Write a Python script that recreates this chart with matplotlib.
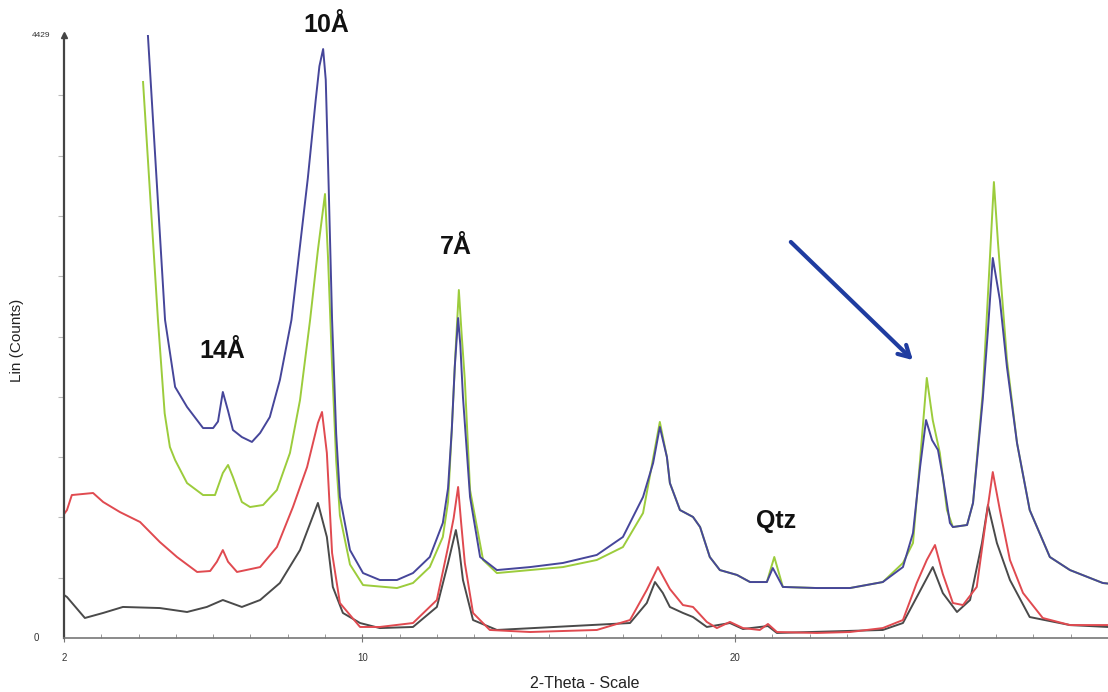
import matplotlib
matplotlib.use("Agg")
import matplotlib.pyplot as plt
import numpy as np

plt.rcParams['font.family'] = ['Liberation Sans', 'DejaVu Sans']

# ---- data (2-Theta, Lin counts) ----
blue_x = [4.25, 4.71, 4.98, 5.30, 5.73, 6.00, 6.13, 6.26, 6.40, 6.53, 6.77, 7.04, 7.26, 7.52, 7.79,
          8.10, 8.54, 8.75, 8.85, 8.95, 9.02, 9.10, 9.19, 9.30, 9.40, 9.67, 10.02, 10.47, 10.93, 11.36,
          11.81, 12.16, 12.30, 12.40, 12.48, 12.57, 12.63, 12.70, 12.89, 13.16, 13.61, 14.50, 15.38,
          16.29, 16.99, 17.53, 17.80, 17.98, 18.17, 18.25, 18.52, 18.87, 19.06, 19.32, 19.59, 20.05,
          20.40, 20.85, 21.01, 21.28, 22.19, 23.08, 23.96, 24.50, 24.77, 24.96, 25.12, 25.28, 25.44,
          25.57, 25.76, 25.84, 26.22, 26.38, 26.64, 26.78, 26.91, 27.10, 27.29, 27.56, 27.90, 28.44,
          28.98, 29.86, 30.00]
blue_y = [4429, 2336, 1844, 1697, 1542, 1542, 1590, 1807, 1668, 1528, 1476, 1440, 1506, 1623, 1895,
          2336, 3379, 3950, 4200, 4326, 4100, 3300, 2336, 1500, 1036, 646, 477, 426, 426, 477,
          595, 845, 1100, 1528, 1990, 2350, 2150, 1770, 1036, 595, 499, 521, 551,
          610, 742, 1036, 1285, 1550, 1329, 1138, 940, 889, 815, 595, 499, 463,
          411, 411, 514, 375, 367, 367, 411, 521, 771, 1256, 1601, 1454, 1381,
          1183, 845, 815, 830, 992, 1750, 2262, 2791, 2483, 1990, 1432, 940, 595,
          499, 404, 400]

green_x = [4.12, 4.52, 4.70, 4.84, 4.98, 5.30, 5.73, 6.05, 6.26, 6.40, 6.53, 6.77, 6.99, 7.34, 7.71,
           8.06, 8.33, 8.60, 8.81, 9.00, 9.08, 9.19, 9.30, 9.40, 9.67, 10.02, 10.93, 11.36, 11.81,
           12.16, 12.30, 12.40, 12.50, 12.59, 12.66, 12.75, 12.89, 13.24, 13.61, 15.38, 16.29, 16.99,
           17.53, 17.98, 18.17, 18.25, 18.52, 18.87, 19.06, 19.32, 19.59, 20.05, 20.40, 20.85, 21.05,
           21.28, 22.19, 23.08, 23.96, 24.50, 24.77, 24.96, 25.14, 25.30, 25.49, 25.68, 25.84, 26.22,
           26.38, 26.64, 26.83, 26.94, 27.05, 27.29, 27.56, 27.90, 28.44, 28.98, 29.86, 30.00]
green_y = [4084, 2336, 1650, 1403, 1307, 1138, 1050, 1050, 1212, 1271, 1183, 999, 962, 977, 1087,
           1359, 1748, 2336, 2850, 3261, 2800, 2000, 1300, 900, 540, 389, 367, 404, 521,
           742, 1000, 1528, 2100, 2556, 2250, 1895, 1087, 573, 477, 521, 573, 668,
           918, 1587, 1329, 1138, 940, 889, 815, 595, 499, 463, 411, 411, 595,
           375, 367, 367, 411, 551, 698, 1307, 1910, 1600, 1359, 940, 815, 830,
           992, 1800, 2776, 3349, 2901, 2042, 1432, 940, 595, 499, 404, 400]

red_x = [2.00, 2.08, 2.21, 2.78, 3.05, 3.50, 4.04, 4.57, 5.03, 5.57, 5.92, 6.10, 6.26, 6.40, 6.64,
         7.26, 7.71, 8.14, 8.52, 8.81, 8.92, 9.05, 9.19, 9.40, 9.94, 10.47, 11.36, 12.00, 12.30,
         12.45, 12.57, 12.65, 12.75, 12.97, 13.42, 14.50, 16.29, 17.18, 17.63, 17.93, 18.25, 18.60,
         18.87, 19.24, 19.51, 19.86, 20.21, 20.66, 20.88, 21.12, 22.19, 23.08, 23.96, 24.50, 24.87,
         25.14, 25.36, 25.57, 25.84, 26.11, 26.48, 26.70, 26.91, 27.10, 27.37, 27.72, 28.25, 28.98,
         30.00]
red_y = [910, 940, 1050, 1065, 999, 925, 852, 705, 595, 485, 492, 560, 646, 560, 485,
         521, 668, 962, 1256, 1580, 1660, 1359, 624, 257, 81, 81, 110, 279, 668,
         880, 1109, 850, 551, 184, 59, 44, 59, 132, 353, 521, 360, 242,
         228, 118, 73, 118, 73, 59, 103, 44, 37, 44, 73, 132, 404,
         573, 683, 470, 257, 242, 375, 815, 1219, 940, 573, 331, 147, 95,
         95]

black_x = [2.00, 2.08, 2.56, 3.05, 3.58, 4.57, 5.30, 5.83, 6.26, 6.77, 7.26, 7.79, 8.33, 8.81, 9.05,
           9.21, 9.48, 9.94, 10.47, 11.36, 12.00, 12.30, 12.42, 12.51, 12.60, 12.70, 12.97, 13.61,
           17.18, 17.63, 17.85, 18.06, 18.25, 18.60, 18.87, 19.24, 19.86, 20.21, 20.88, 21.12, 23.96,
           24.50, 24.87, 25.30, 25.57, 25.95, 26.30, 26.62, 26.78, 27.02, 27.37, 27.90, 28.98, 30.00]
black_y = [316, 301, 147, 184, 228, 220, 191, 228, 279, 228, 279, 404, 646, 992, 742,
           375, 184, 110, 73, 81, 228, 551, 690, 793, 650, 426, 132, 59,
           110, 257, 411, 331, 228, 184, 154, 81, 110, 66, 88, 37, 59,
           110, 300, 521, 330, 191, 279, 698, 977, 698, 426, 154, 95, 81]

x_tick_labels = ["2", "10", "20"]
x_tick_vals = [2, 10, 20]
y_max = 4429

fig = plt.figure(figsize=(11.08, 6.92), dpi=100)
ax = fig.add_axes([64/1108, 54/692, 1044/1108, 603/692])
ax.set_xlim(2, 30)
ax.set_ylim(0, y_max)

ax.plot(black_x, black_y, color='#4a4a4a', lw=1.4)
ax.plot(red_x, red_y, color='#e04a50', lw=1.4)
ax.plot(green_x, green_y, color='#9ccc3c', lw=1.4)
ax.plot(blue_x, blue_y, color='#46469a', lw=1.4)

for s in ['top', 'right']:
    ax.spines[s].set_visible(False)
ax.spines['left'].set_color('#444444')
ax.spines['left'].set_linewidth(1.6)
ax.spines['bottom'].set_color('#777777')
ax.spines['bottom'].set_linewidth(1.2)

ax.set_xticks(x_tick_vals)
ax.set_xticklabels(x_tick_labels, fontsize=7, color='#333333')
ax.set_xticks(np.arange(3, 30, 1), minor=True)
ax.tick_params(axis='x', which='major', direction='inout', length=6, color='#777777', pad=8)
ax.tick_params(axis='x', which='minor', direction='in', length=3, color='#888888')

ax.set_yticks([y_max * i / 10 for i in range(1, 10)])
ax.set_yticklabels([])
ax.tick_params(axis='y', direction='out', length=4, color='#bbbbbb')
ax.annotate("4429", xy=(0, y_max), xycoords=('axes fraction', 'data'),
            xytext=(-10, 0), textcoords='offset points', fontsize=6, color='#333333',
            ha='right', va='center', annotation_clip=False)
ax.annotate("0", xy=(0, 0), xycoords=('axes fraction', 'data'),
            xytext=(-18, 0), textcoords='offset points', fontsize=7, color='#333333',
            ha='right', va='center', annotation_clip=False)
ax.plot([0], [y_max], marker='^', ms=4, color='#444444', transform=ax.get_yaxis_transform(),
        clip_on=False)

fig.text(585/1108, 1 - 683/692, "2-Theta - Scale", fontsize=11.5, color='#222222',
         ha='center', va='center')
fig.text(17/1108, 1 - 340/692, "Lin (Counts)", fontsize=11, color='#222222',
         ha='center', va='center', rotation=90)

txt = dict(fontsize=18, fontweight='bold', color='#111111', ha='center', va='center', clip_on=False)
ax.text(9.03, 4500, "10Å", **txt)
ax.text(12.51, 2870, "7Å", **txt)
ax.text(6.24, 2105, "14Å", **txt)
ax.text(21.09, 860, "Qtz", **txt)

ax.annotate("", xy=(24.82, 2027), xytext=(21.44, 2923),
            arrowprops=dict(arrowstyle='->,head_length=0.8,head_width=0.45',
                            color='#1f3ca0', lw=3))

fig.savefig("out.png", dpi=100)
